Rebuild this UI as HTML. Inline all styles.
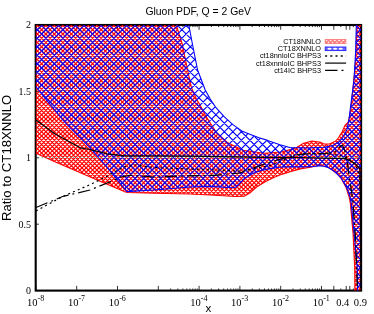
<!DOCTYPE html>
<html><head><meta charset="utf-8"><title>Gluon PDF</title>
<style>
html,body{margin:0;padding:0;background:#fff;}
body{width:374px;height:314px;overflow:hidden;}
svg{display:block;will-change:transform;}
text{fill:#000;}
.sans{font-family:"Liberation Sans",sans-serif;}
.serif{font-family:"Liberation Serif",serif;}
</style></head><body>
<svg width="374" height="314" viewBox="0 0 374 314">
<defs>
<pattern id="pr" patternUnits="userSpaceOnUse" x="7.6" y="0" width="4.25" height="4.25">
<path d="M-1 -1L5.25 5.25M-1 5.25L5.25 -1M-1 3.25L1 5.25M3.25 -1L5.25 1M-1 1L1 -1M3.25 5.25L5.25 3.25" stroke="#ff0000" stroke-width="1.45" fill="none"/>
</pattern>
<pattern id="pb" patternUnits="userSpaceOnUse" x="7.6" y="0" width="8.5" height="8.5">
<path d="M-1 -1L9.5 9.5M-1 9.5L9.5 -1M-1 7.5L1 9.5M7.5 -1L9.5 1M-1 1L1 -1M7.5 9.5L9.5 7.5" stroke="#0000ff" stroke-width="1.35" fill="none"/>
</pattern>
<clipPath id="cr"><polygon points="35.7,25.0 176.3,25.0 182.5,45.0 187.6,70.0 191.6,88.0 196.4,99.0 199.5,104.0 205.2,115.0 216.5,132.7 227.8,142.8 242.9,150.3 264.0,153.2 281.0,152.0 295.0,148.4 303.6,143.2 312.0,141.0 320.8,142.4 324.0,144.0 329.4,144.0 335.5,141.3 338.3,138.0 342.2,131.8 345.0,125.3 348.2,122.1 350.8,110.0 355.8,60.0 357.0,25.0 361.1,25.0 361.1,290.6 354.9,290.7 354.7,268.0 353.1,234.0 350.3,203.0 349.0,196.5 346.2,187.8 341.2,178.4 336.5,173.2 329.6,168.0 324.0,166.0 319.2,165.3 310.6,167.2 300.3,168.9 291.0,171.5 282.4,174.1 273.8,177.5 265.2,181.8 256.6,187.0 249.8,193.0 244.6,196.1 236.0,196.5 210.0,195.0 190.0,194.0 154.0,193.3 127.5,192.5 124.4,191.6 110.0,185.4 92.0,177.7 56.0,162.3 35.5,153.0"/></clipPath>
<clipPath id="cb"><polygon points="35.7,25.0 188.8,25.0 192.6,45.0 197.6,70.0 205.2,90.0 210.2,99.0 216.0,107.7 224.6,117.2 233.2,124.9 241.8,130.9 250.4,134.4 259.0,137.8 267.6,140.4 280.0,144.7 289.8,147.5 307.0,148.0 324.0,147.2 332.7,145.6 338.5,142.3 342.5,138.0 346.9,129.7 349.1,118.8 350.4,108.0 354.0,80.0 355.7,50.0 356.3,25.0 361.1,25.0 361.1,290.6 357.6,290.7 357.2,268.0 354.2,234.0 351.2,203.0 350.0,196.5 346.8,187.8 341.6,178.4 334.7,171.5 327.8,167.2 321.0,165.8 310.6,166.7 300.0,166.9 287.6,166.7 279.0,167.2 270.4,168.6 261.8,170.3 253.2,173.2 244.6,178.4 236.0,187.0 232.4,187.8 210.0,186.4 190.0,187.0 154.0,190.0 127.0,191.6 107.2,167.5 90.0,147.7 64.4,121.6 47.2,101.0 35.5,86.0"/></clipPath>
<clipPath id="cp"><rect x="35.7" y="25.0" width="325.40000000000003" height="265.6"/></clipPath>
</defs>
<rect width="374" height="314" fill="#fff"/>
<g stroke="#000" stroke-width="0.8" fill="none"><path d="M35.9 290.6v-4.75M35.9 25.0v4.75"/><path d="M76.7 290.6v-4.75M76.7 25.0v4.75"/><path d="M117.5 290.6v-4.75M117.5 25.0v4.75"/><path d="M158.3 290.6v-4.75M158.3 25.0v4.75"/><path d="M199.1 290.6v-4.75M199.1 25.0v4.75"/><path d="M239.9 290.6v-4.75M239.9 25.0v4.75"/><path d="M280.7 290.6v-4.75M280.7 25.0v4.75"/><path d="M321.5 290.6v-4.75M321.5 25.0v4.75"/><path d="M170.6 290.6v-2.1M170.6 25.0v2.1"/><path d="M177.8 290.6v-2.1M177.8 25.0v2.1"/><path d="M182.9 290.6v-2.1M182.9 25.0v2.1"/><path d="M186.8 290.6v-2.1M186.8 25.0v2.1"/><path d="M190.0 290.6v-2.1M190.0 25.0v2.1"/><path d="M192.8 290.6v-2.1M192.8 25.0v2.1"/><path d="M195.1 290.6v-2.1M195.1 25.0v2.1"/><path d="M197.2 290.6v-2.1M197.2 25.0v2.1"/><path d="M211.4 290.6v-2.1M211.4 25.0v2.1"/><path d="M218.6 290.6v-2.1M218.6 25.0v2.1"/><path d="M223.7 290.6v-2.1M223.7 25.0v2.1"/><path d="M227.6 290.6v-2.1M227.6 25.0v2.1"/><path d="M230.8 290.6v-2.1M230.8 25.0v2.1"/><path d="M233.6 290.6v-2.1M233.6 25.0v2.1"/><path d="M235.9 290.6v-2.1M235.9 25.0v2.1"/><path d="M238.0 290.6v-2.1M238.0 25.0v2.1"/><path d="M252.2 290.6v-2.1M252.2 25.0v2.1"/><path d="M259.4 290.6v-2.1M259.4 25.0v2.1"/><path d="M264.5 290.6v-2.1M264.5 25.0v2.1"/><path d="M268.4 290.6v-2.1M268.4 25.0v2.1"/><path d="M271.6 290.6v-2.1M271.6 25.0v2.1"/><path d="M274.4 290.6v-2.1M274.4 25.0v2.1"/><path d="M276.7 290.6v-2.1M276.7 25.0v2.1"/><path d="M278.8 290.6v-2.1M278.8 25.0v2.1"/><path d="M293.0 290.6v-2.1M293.0 25.0v2.1"/><path d="M300.2 290.6v-2.1M300.2 25.0v2.1"/><path d="M305.3 290.6v-2.1M305.3 25.0v2.1"/><path d="M309.2 290.6v-2.1M309.2 25.0v2.1"/><path d="M312.4 290.6v-2.1M312.4 25.0v2.1"/><path d="M315.2 290.6v-2.1M315.2 25.0v2.1"/><path d="M317.5 290.6v-2.1M317.5 25.0v2.1"/><path d="M319.6 290.6v-2.1M319.6 25.0v2.1"/><path d="M333.8 290.6v-4.75M333.8 25.0v4.75"/><path d="M340.8 290.6v-2.1M340.8 25.0v2.1"/><path d="M346.2 290.6v-4.75M346.2 25.0v4.75"/><path d="M349.8 290.6v-4.75M349.8 25.0v4.75"/><path d="M353.3 290.6v-2.1M353.3 25.0v2.1"/><path d="M35.7 290.6h3.2M361.1 290.6h-3.2"/><path d="M35.7 224.2h3.2M361.1 224.2h-3.2"/><path d="M35.7 157.8h3.2M361.1 157.8h-3.2"/><path d="M35.7 91.4h3.2M361.1 91.4h-3.2"/><path d="M35.7 25.0h3.2M361.1 25.0h-3.2"/></g>
<rect x="35.7" y="25.0" width="325.40000000000003" height="265.6" fill="none" stroke="#000" stroke-width="2.1"/>
<g clip-path="url(#cp)">
<g clip-path="url(#cr)"><path d="M-237.15 23.00L32.45 292.60M-232.90 23.00L36.70 292.60M-228.65 23.00L40.95 292.60M-224.40 23.00L45.20 292.60M-220.15 23.00L49.45 292.60M-215.90 23.00L53.70 292.60M-211.65 23.00L57.95 292.60M-207.40 23.00L62.20 292.60M-203.15 23.00L66.45 292.60M-198.90 23.00L70.70 292.60M-194.65 23.00L74.95 292.60M-190.40 23.00L79.20 292.60M-186.15 23.00L83.45 292.60M-181.90 23.00L87.70 292.60M-177.65 23.00L91.95 292.60M-173.40 23.00L96.20 292.60M-169.15 23.00L100.45 292.60M-164.90 23.00L104.70 292.60M-160.65 23.00L108.95 292.60M-156.40 23.00L113.20 292.60M-152.15 23.00L117.45 292.60M-147.90 23.00L121.70 292.60M-143.65 23.00L125.95 292.60M-139.40 23.00L130.20 292.60M-135.15 23.00L134.45 292.60M-130.90 23.00L138.70 292.60M-126.65 23.00L142.95 292.60M-122.40 23.00L147.20 292.60M-118.15 23.00L151.45 292.60M-113.90 23.00L155.70 292.60M-109.65 23.00L159.95 292.60M-105.40 23.00L164.20 292.60M-101.15 23.00L168.45 292.60M-96.90 23.00L172.70 292.60M-92.65 23.00L176.95 292.60M-88.40 23.00L181.20 292.60M-84.15 23.00L185.45 292.60M-79.90 23.00L189.70 292.60M-75.65 23.00L193.95 292.60M-71.40 23.00L198.20 292.60M-67.15 23.00L202.45 292.60M-62.90 23.00L206.70 292.60M-58.65 23.00L210.95 292.60M-54.40 23.00L215.20 292.60M-50.15 23.00L219.45 292.60M-45.90 23.00L223.70 292.60M-41.65 23.00L227.95 292.60M-37.40 23.00L232.20 292.60M-33.15 23.00L236.45 292.60M-28.90 23.00L240.70 292.60M-24.65 23.00L244.95 292.60M-20.40 23.00L249.20 292.60M-16.15 23.00L253.45 292.60M-11.90 23.00L257.70 292.60M-7.65 23.00L261.95 292.60M-3.40 23.00L266.20 292.60M0.85 23.00L270.45 292.60M5.10 23.00L274.70 292.60M9.35 23.00L278.95 292.60M13.60 23.00L283.20 292.60M17.85 23.00L287.45 292.60M22.10 23.00L291.70 292.60M26.35 23.00L295.95 292.60M30.60 23.00L300.20 292.60M34.85 23.00L304.45 292.60M39.10 23.00L308.70 292.60M43.35 23.00L312.95 292.60M47.60 23.00L317.20 292.60M51.85 23.00L321.45 292.60M56.10 23.00L325.70 292.60M60.35 23.00L329.95 292.60M64.60 23.00L334.20 292.60M68.85 23.00L338.45 292.60M73.10 23.00L342.70 292.60M77.35 23.00L346.95 292.60M81.60 23.00L351.20 292.60M85.85 23.00L355.45 292.60M90.10 23.00L359.70 292.60M94.35 23.00L363.95 292.60M98.60 23.00L368.20 292.60M102.85 23.00L372.45 292.60M107.10 23.00L376.70 292.60M111.35 23.00L380.95 292.60M115.60 23.00L385.20 292.60M119.85 23.00L389.45 292.60M124.10 23.00L393.70 292.60M128.35 23.00L397.95 292.60M132.60 23.00L402.20 292.60M136.85 23.00L406.45 292.60M141.10 23.00L410.70 292.60M145.35 23.00L414.95 292.60M149.60 23.00L419.20 292.60M153.85 23.00L423.45 292.60M158.10 23.00L427.70 292.60M162.35 23.00L431.95 292.60M166.60 23.00L436.20 292.60M170.85 23.00L440.45 292.60M175.10 23.00L444.70 292.60M179.35 23.00L448.95 292.60M183.60 23.00L453.20 292.60M187.85 23.00L457.45 292.60M192.10 23.00L461.70 292.60M196.35 23.00L465.95 292.60M200.60 23.00L470.20 292.60M204.85 23.00L474.45 292.60M209.10 23.00L478.70 292.60M213.35 23.00L482.95 292.60M217.60 23.00L487.20 292.60M221.85 23.00L491.45 292.60M226.10 23.00L495.70 292.60M230.35 23.00L499.95 292.60M234.60 23.00L504.20 292.60M238.85 23.00L508.45 292.60M243.10 23.00L512.70 292.60M247.35 23.00L516.95 292.60M251.60 23.00L521.20 292.60M255.85 23.00L525.45 292.60M260.10 23.00L529.70 292.60M264.35 23.00L533.95 292.60M268.60 23.00L538.20 292.60M272.85 23.00L542.45 292.60M277.10 23.00L546.70 292.60M281.35 23.00L550.95 292.60M285.60 23.00L555.20 292.60M289.85 23.00L559.45 292.60M294.10 23.00L563.70 292.60M298.35 23.00L567.95 292.60M302.60 23.00L572.20 292.60M306.85 23.00L576.45 292.60M311.10 23.00L580.70 292.60M315.35 23.00L584.95 292.60M319.60 23.00L589.20 292.60M323.85 23.00L593.45 292.60M328.10 23.00L597.70 292.60M332.35 23.00L601.95 292.60M336.60 23.00L606.20 292.60M340.85 23.00L610.45 292.60M345.10 23.00L614.70 292.60M349.35 23.00L618.95 292.60M353.60 23.00L623.20 292.60M357.85 23.00L627.45 292.60M362.10 23.00L631.70 292.60M366.35 23.00L635.95 292.60M31.35 23.00L-238.25 292.60M35.60 23.00L-234.00 292.60M39.85 23.00L-229.75 292.60M44.10 23.00L-225.50 292.60M48.35 23.00L-221.25 292.60M52.60 23.00L-217.00 292.60M56.85 23.00L-212.75 292.60M61.10 23.00L-208.50 292.60M65.35 23.00L-204.25 292.60M69.60 23.00L-200.00 292.60M73.85 23.00L-195.75 292.60M78.10 23.00L-191.50 292.60M82.35 23.00L-187.25 292.60M86.60 23.00L-183.00 292.60M90.85 23.00L-178.75 292.60M95.10 23.00L-174.50 292.60M99.35 23.00L-170.25 292.60M103.60 23.00L-166.00 292.60M107.85 23.00L-161.75 292.60M112.10 23.00L-157.50 292.60M116.35 23.00L-153.25 292.60M120.60 23.00L-149.00 292.60M124.85 23.00L-144.75 292.60M129.10 23.00L-140.50 292.60M133.35 23.00L-136.25 292.60M137.60 23.00L-132.00 292.60M141.85 23.00L-127.75 292.60M146.10 23.00L-123.50 292.60M150.35 23.00L-119.25 292.60M154.60 23.00L-115.00 292.60M158.85 23.00L-110.75 292.60M163.10 23.00L-106.50 292.60M167.35 23.00L-102.25 292.60M171.60 23.00L-98.00 292.60M175.85 23.00L-93.75 292.60M180.10 23.00L-89.50 292.60M184.35 23.00L-85.25 292.60M188.60 23.00L-81.00 292.60M192.85 23.00L-76.75 292.60M197.10 23.00L-72.50 292.60M201.35 23.00L-68.25 292.60M205.60 23.00L-64.00 292.60M209.85 23.00L-59.75 292.60M214.10 23.00L-55.50 292.60M218.35 23.00L-51.25 292.60M222.60 23.00L-47.00 292.60M226.85 23.00L-42.75 292.60M231.10 23.00L-38.50 292.60M235.35 23.00L-34.25 292.60M239.60 23.00L-30.00 292.60M243.85 23.00L-25.75 292.60M248.10 23.00L-21.50 292.60M252.35 23.00L-17.25 292.60M256.60 23.00L-13.00 292.60M260.85 23.00L-8.75 292.60M265.10 23.00L-4.50 292.60M269.35 23.00L-0.25 292.60M273.60 23.00L4.00 292.60M277.85 23.00L8.25 292.60M282.10 23.00L12.50 292.60M286.35 23.00L16.75 292.60M290.60 23.00L21.00 292.60M294.85 23.00L25.25 292.60M299.10 23.00L29.50 292.60M303.35 23.00L33.75 292.60M307.60 23.00L38.00 292.60M311.85 23.00L42.25 292.60M316.10 23.00L46.50 292.60M320.35 23.00L50.75 292.60M324.60 23.00L55.00 292.60M328.85 23.00L59.25 292.60M333.10 23.00L63.50 292.60M337.35 23.00L67.75 292.60M341.60 23.00L72.00 292.60M345.85 23.00L76.25 292.60M350.10 23.00L80.50 292.60M354.35 23.00L84.75 292.60M358.60 23.00L89.00 292.60M362.85 23.00L93.25 292.60M367.10 23.00L97.50 292.60M371.35 23.00L101.75 292.60M375.60 23.00L106.00 292.60M379.85 23.00L110.25 292.60M384.10 23.00L114.50 292.60M388.35 23.00L118.75 292.60M392.60 23.00L123.00 292.60M396.85 23.00L127.25 292.60M401.10 23.00L131.50 292.60M405.35 23.00L135.75 292.60M409.60 23.00L140.00 292.60M413.85 23.00L144.25 292.60M418.10 23.00L148.50 292.60M422.35 23.00L152.75 292.60M426.60 23.00L157.00 292.60M430.85 23.00L161.25 292.60M435.10 23.00L165.50 292.60M439.35 23.00L169.75 292.60M443.60 23.00L174.00 292.60M447.85 23.00L178.25 292.60M452.10 23.00L182.50 292.60M456.35 23.00L186.75 292.60M460.60 23.00L191.00 292.60M464.85 23.00L195.25 292.60M469.10 23.00L199.50 292.60M473.35 23.00L203.75 292.60M477.60 23.00L208.00 292.60M481.85 23.00L212.25 292.60M486.10 23.00L216.50 292.60M490.35 23.00L220.75 292.60M494.60 23.00L225.00 292.60M498.85 23.00L229.25 292.60M503.10 23.00L233.50 292.60M507.35 23.00L237.75 292.60M511.60 23.00L242.00 292.60M515.85 23.00L246.25 292.60M520.10 23.00L250.50 292.60M524.35 23.00L254.75 292.60M528.60 23.00L259.00 292.60M532.85 23.00L263.25 292.60M537.10 23.00L267.50 292.60M541.35 23.00L271.75 292.60M545.60 23.00L276.00 292.60M549.85 23.00L280.25 292.60M554.10 23.00L284.50 292.60M558.35 23.00L288.75 292.60M562.60 23.00L293.00 292.60M566.85 23.00L297.25 292.60M571.10 23.00L301.50 292.60M575.35 23.00L305.75 292.60M579.60 23.00L310.00 292.60M583.85 23.00L314.25 292.60M588.10 23.00L318.50 292.60M592.35 23.00L322.75 292.60M596.60 23.00L327.00 292.60M600.85 23.00L331.25 292.60M605.10 23.00L335.50 292.60M609.35 23.00L339.75 292.60M613.60 23.00L344.00 292.60M617.85 23.00L348.25 292.60M622.10 23.00L352.50 292.60M626.35 23.00L356.75 292.60M630.60 23.00L361.00 292.60M634.85 23.00L365.25 292.60" stroke="#ff0000" stroke-width="1.25" fill="none"/></g>
<g fill="none" stroke="#ff0000" stroke-width="1.1" stroke-linejoin="round"><polyline points="176.3,25.0 182.5,45.0 187.6,70.0 191.6,88.0 196.4,99.0 199.5,104.0 205.2,115.0 216.5,132.7 227.8,142.8 242.9,150.3 264.0,153.2 281.0,152.0 295.0,148.4 303.6,143.2 312.0,141.0 320.8,142.4 324.0,144.0 329.4,144.0 335.5,141.3 338.3,138.0 342.2,131.8 345.0,125.3 348.2,122.1 350.8,110.0 355.8,60.0 357.0,25.0"/><polyline points="354.9,290.7 354.7,268.0 353.1,234.0 350.3,203.0 349.0,196.5 346.2,187.8 341.2,178.4 336.5,173.2 329.6,168.0 324.0,166.0 319.2,165.3 310.6,167.2 300.3,168.9 291.0,171.5 282.4,174.1 273.8,177.5 265.2,181.8 256.6,187.0 249.8,193.0 244.6,196.1 236.0,196.5 210.0,195.0 190.0,194.0 154.0,193.3 127.5,192.5 124.4,191.6 110.0,185.4 92.0,177.7 56.0,162.3 35.5,153.0"/></g>
<g clip-path="url(#cb)"><path d="M-241.40 23.00L28.20 292.60M-232.90 23.00L36.70 292.60M-224.40 23.00L45.20 292.60M-215.90 23.00L53.70 292.60M-207.40 23.00L62.20 292.60M-198.90 23.00L70.70 292.60M-190.40 23.00L79.20 292.60M-181.90 23.00L87.70 292.60M-173.40 23.00L96.20 292.60M-164.90 23.00L104.70 292.60M-156.40 23.00L113.20 292.60M-147.90 23.00L121.70 292.60M-139.40 23.00L130.20 292.60M-130.90 23.00L138.70 292.60M-122.40 23.00L147.20 292.60M-113.90 23.00L155.70 292.60M-105.40 23.00L164.20 292.60M-96.90 23.00L172.70 292.60M-88.40 23.00L181.20 292.60M-79.90 23.00L189.70 292.60M-71.40 23.00L198.20 292.60M-62.90 23.00L206.70 292.60M-54.40 23.00L215.20 292.60M-45.90 23.00L223.70 292.60M-37.40 23.00L232.20 292.60M-28.90 23.00L240.70 292.60M-20.40 23.00L249.20 292.60M-11.90 23.00L257.70 292.60M-3.40 23.00L266.20 292.60M5.10 23.00L274.70 292.60M13.60 23.00L283.20 292.60M22.10 23.00L291.70 292.60M30.60 23.00L300.20 292.60M39.10 23.00L308.70 292.60M47.60 23.00L317.20 292.60M56.10 23.00L325.70 292.60M64.60 23.00L334.20 292.60M73.10 23.00L342.70 292.60M81.60 23.00L351.20 292.60M90.10 23.00L359.70 292.60M98.60 23.00L368.20 292.60M107.10 23.00L376.70 292.60M115.60 23.00L385.20 292.60M124.10 23.00L393.70 292.60M132.60 23.00L402.20 292.60M141.10 23.00L410.70 292.60M149.60 23.00L419.20 292.60M158.10 23.00L427.70 292.60M166.60 23.00L436.20 292.60M175.10 23.00L444.70 292.60M183.60 23.00L453.20 292.60M192.10 23.00L461.70 292.60M200.60 23.00L470.20 292.60M209.10 23.00L478.70 292.60M217.60 23.00L487.20 292.60M226.10 23.00L495.70 292.60M234.60 23.00L504.20 292.60M243.10 23.00L512.70 292.60M251.60 23.00L521.20 292.60M260.10 23.00L529.70 292.60M268.60 23.00L538.20 292.60M277.10 23.00L546.70 292.60M285.60 23.00L555.20 292.60M294.10 23.00L563.70 292.60M302.60 23.00L572.20 292.60M311.10 23.00L580.70 292.60M319.60 23.00L589.20 292.60M328.10 23.00L597.70 292.60M336.60 23.00L606.20 292.60M345.10 23.00L614.70 292.60M353.60 23.00L623.20 292.60M362.10 23.00L631.70 292.60M370.60 23.00L640.20 292.60M27.10 23.00L-242.50 292.60M35.60 23.00L-234.00 292.60M44.10 23.00L-225.50 292.60M52.60 23.00L-217.00 292.60M61.10 23.00L-208.50 292.60M69.60 23.00L-200.00 292.60M78.10 23.00L-191.50 292.60M86.60 23.00L-183.00 292.60M95.10 23.00L-174.50 292.60M103.60 23.00L-166.00 292.60M112.10 23.00L-157.50 292.60M120.60 23.00L-149.00 292.60M129.10 23.00L-140.50 292.60M137.60 23.00L-132.00 292.60M146.10 23.00L-123.50 292.60M154.60 23.00L-115.00 292.60M163.10 23.00L-106.50 292.60M171.60 23.00L-98.00 292.60M180.10 23.00L-89.50 292.60M188.60 23.00L-81.00 292.60M197.10 23.00L-72.50 292.60M205.60 23.00L-64.00 292.60M214.10 23.00L-55.50 292.60M222.60 23.00L-47.00 292.60M231.10 23.00L-38.50 292.60M239.60 23.00L-30.00 292.60M248.10 23.00L-21.50 292.60M256.60 23.00L-13.00 292.60M265.10 23.00L-4.50 292.60M273.60 23.00L4.00 292.60M282.10 23.00L12.50 292.60M290.60 23.00L21.00 292.60M299.10 23.00L29.50 292.60M307.60 23.00L38.00 292.60M316.10 23.00L46.50 292.60M324.60 23.00L55.00 292.60M333.10 23.00L63.50 292.60M341.60 23.00L72.00 292.60M350.10 23.00L80.50 292.60M358.60 23.00L89.00 292.60M367.10 23.00L97.50 292.60M375.60 23.00L106.00 292.60M384.10 23.00L114.50 292.60M392.60 23.00L123.00 292.60M401.10 23.00L131.50 292.60M409.60 23.00L140.00 292.60M418.10 23.00L148.50 292.60M426.60 23.00L157.00 292.60M435.10 23.00L165.50 292.60M443.60 23.00L174.00 292.60M452.10 23.00L182.50 292.60M460.60 23.00L191.00 292.60M469.10 23.00L199.50 292.60M477.60 23.00L208.00 292.60M486.10 23.00L216.50 292.60M494.60 23.00L225.00 292.60M503.10 23.00L233.50 292.60M511.60 23.00L242.00 292.60M520.10 23.00L250.50 292.60M528.60 23.00L259.00 292.60M537.10 23.00L267.50 292.60M545.60 23.00L276.00 292.60M554.10 23.00L284.50 292.60M562.60 23.00L293.00 292.60M571.10 23.00L301.50 292.60M579.60 23.00L310.00 292.60M588.10 23.00L318.50 292.60M596.60 23.00L327.00 292.60M605.10 23.00L335.50 292.60M613.60 23.00L344.00 292.60M622.10 23.00L352.50 292.60M630.60 23.00L361.00 292.60M639.10 23.00L369.50 292.60" stroke="#0000ff" stroke-width="1.1" fill="none"/></g>
<g fill="none" stroke="#0000ff" stroke-width="1.1" stroke-linejoin="round"><polyline points="188.8,25.0 192.6,45.0 197.6,70.0 205.2,90.0 210.2,99.0 216.0,107.7 224.6,117.2 233.2,124.9 241.8,130.9 250.4,134.4 259.0,137.8 267.6,140.4 280.0,144.7 289.8,147.5 307.0,148.0 324.0,147.2 332.7,145.6 338.5,142.3 342.5,138.0 346.9,129.7 349.1,118.8 350.4,108.0 354.0,80.0 355.7,50.0 356.3,25.0"/><polyline points="357.6,290.7 357.2,268.0 354.2,234.0 351.2,203.0 350.0,196.5 346.8,187.8 341.6,178.4 334.7,171.5 327.8,167.2 321.0,165.8 310.6,166.7 300.0,166.9 287.6,166.7 279.0,167.2 270.4,168.6 261.8,170.3 253.2,173.2 244.6,178.4 236.0,187.0 232.4,187.8 210.0,186.4 190.0,187.0 154.0,190.0 127.0,191.6 107.2,167.5 90.0,147.7 64.4,121.6 47.2,101.0 35.5,86.0"/></g>
<path d="M38.2 157.6H361.1" stroke="#2fa37f" stroke-width="0.9" stroke-dasharray="1.1 2.4" fill="none"/>
<polyline points="36.0,120.0 55.1,134.0 80.3,147.8 90.0,149.5 107.2,153.8 124.4,155.8 154.0,155.8 190.0,156.2 264.0,157.3 300.0,157.5 345.7,158.6 354.4,163.0 359.8,168.4 360.6,200.0 361.0,290.0" fill="none" stroke="#000" stroke-width="1.2" stroke-linejoin="round"/>
<polyline points="36.0,211.0 62.7,196.5 90.0,184.7 107.2,176.1 124.4,166.7 134.7,165.0 154.0,167.5 180.0,168.6 214.0,170.0 240.0,171.0 253.2,168.8 261.6,167.2 270.4,165.3 279.0,162.0 287.6,158.5 296.0,155.5 305.0,153.6 330.0,153.8 344.0,156.5 351.0,160.5 356.0,166.0 359.3,175.0 360.3,200.0 360.8,290.0" fill="none" stroke="#000" stroke-width="1.2" stroke-dasharray="2 3.2" stroke-linejoin="round"/>
<polyline points="36.0,207.5 62.7,196.5 90.0,190.0 107.2,183.0 121.0,177.0 129.6,175.3 154.0,177.0 180.0,176.1 214.0,175.3 240.0,173.0 253.2,168.0 261.6,165.0 270.4,162.0 279.0,159.5 287.6,157.3 296.0,155.0 305.0,153.8 326.0,153.4 334.0,152.5 337.5,149.5 340.0,146.5 342.4,145.1 344.8,150.4 346.7,159.1 347.7,164.9 348.4,172.0 349.5,178.8 351.3,189.7 352.9,202.0 355.3,235.0 357.5,290.0" fill="none" stroke="#000" stroke-width="1.2" stroke-dasharray="12.4 4 2 4" stroke-linejoin="round"/>
</g>
<g class="sans">
<text x="145.4" y="14.5" font-size="11.2" textLength="105.6" lengthAdjust="spacingAndGlyphs">Gluon PDF, Q = 2 GeV</text>
<text transform="translate(10.8,221.1) rotate(-90)" font-size="12.4" textLength="126.4" lengthAdjust="spacingAndGlyphs">Ratio to CT18XNNLO</text>
<text x="205.4" y="311.8" font-size="11.6">x</text>
<g font-size="6.7" text-anchor="end">
<text x="321" y="43.8" textLength="37.8" lengthAdjust="spacingAndGlyphs">CT18NNLO</text>
<text x="321" y="50.9" textLength="43.2" lengthAdjust="spacingAndGlyphs">CT18XNNLO</text>
<text x="321" y="58.4" textLength="61.1" lengthAdjust="spacingAndGlyphs">ct18nnloIC BHPS3</text>
<text x="321" y="65.7" textLength="64.9" lengthAdjust="spacingAndGlyphs">ct18xnnloIC BHPS3</text>
<text x="321" y="72.6" textLength="46.8" lengthAdjust="spacingAndGlyphs">ct14IC BHPS3</text>
</g>
</g>
<g opacity="0.55"><rect x="325.2" y="39.5" width="20.7" height="3.9" fill="url(#pr)" stroke="#ff0000" stroke-width="0.8"/></g>
<rect x="325.2" y="47" width="20.7" height="3.6" fill="#6a6aff" stroke="#2020ff" stroke-width="0.9"/>
<g fill="#fff"><ellipse cx="329.5" cy="48.8" rx="2" ry="0.95"/><ellipse cx="335.1" cy="48.8" rx="2" ry="0.95"/><ellipse cx="340.7" cy="48.8" rx="2" ry="0.95"/></g>
<path d="M325.1 56H346.1" stroke="#000" stroke-width="1.3" stroke-dasharray="2 3.2"/>
<path d="M325.1 63.1H346.1" stroke="#000" stroke-width="1.2"/>
<path d="M325.1 70.4H346.1" stroke="#000" stroke-width="1.2" stroke-dasharray="12.4 4 2 4"/>
<g class="serif" font-size="10">
<g text-anchor="end">
<text x="30.9" y="28.2">2</text>
<text x="30.9" y="94.6">1.5</text>
<text x="30.9" y="161.1">1</text>
<text x="30.9" y="227.5">0.5</text>
<text x="30.9" y="294">0</text>
</g>
<text x="27.1" y="306" font-size="10.5">10<tspan dy="-5.3" font-size="8">-8</tspan></text><text x="67.9" y="306" font-size="10.5">10<tspan dy="-5.3" font-size="8">-7</tspan></text><text x="108.7" y="306" font-size="10.5">10<tspan dy="-5.3" font-size="8">-6</tspan></text><text x="190.3" y="306" font-size="10.5">10<tspan dy="-5.3" font-size="8">-4</tspan></text><text x="231.1" y="306" font-size="10.5">10<tspan dy="-5.3" font-size="8">-3</tspan></text><text x="271.9" y="306" font-size="10.5">10<tspan dy="-5.3" font-size="8">-2</tspan></text><text x="312.7" y="306" font-size="10.5">10<tspan dy="-5.3" font-size="8">-1</tspan></text>
<text x="342.8" y="306" text-anchor="middle" font-size="10.5">0.4</text>
<text x="360.4" y="306" text-anchor="middle" font-size="10.5">0.9</text>
</g>
</svg>
</body></html>
